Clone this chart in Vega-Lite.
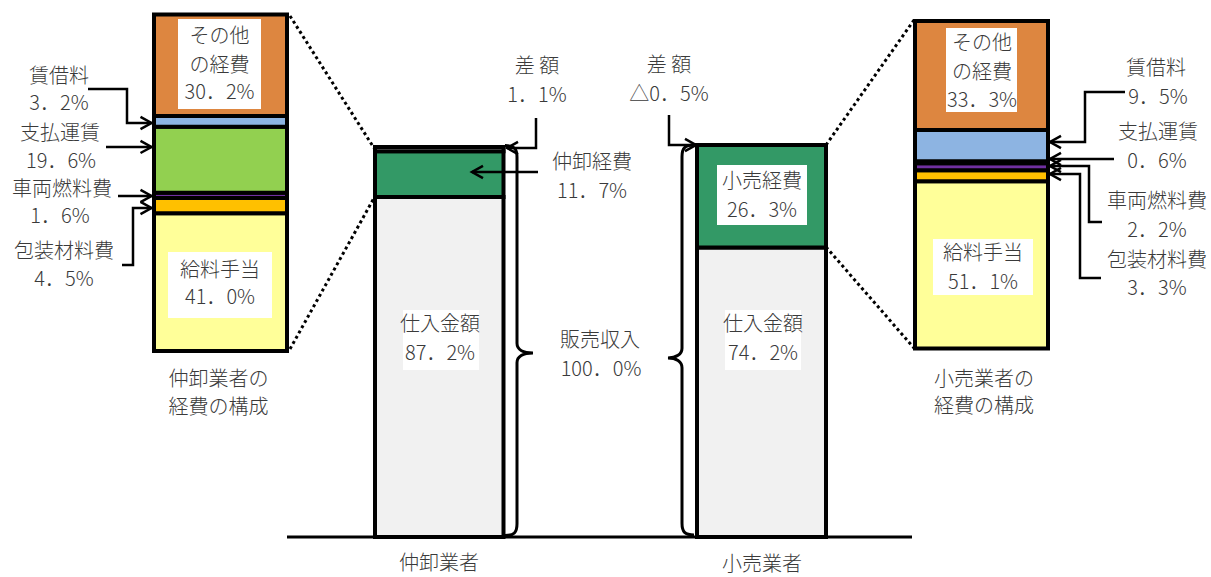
{
  "$schema": "https://vega.github.io/schema/vega-lite/v6.json",
  "width": 1211,
  "height": 577,
  "padding": 0,
  "autosize": "none",
  "background": "white",
  "config": {
    "view": {"stroke": null},
    "font": "Noto Sans CJK JP",
    "text": {"font": "Noto Sans CJK JP", "fontSize": 20, "fontWeight": 300, "color": "#3a3a3a"}
  },
  "datasets": {
    "slots": [
      {"bar": "仲卸業者", "x0": 37.5, "x1": 50.35},
      {"bar": "小売業者", "x0": 69.7, "x1": 82.6},
      {"bar": "仲卸業者の経費", "x0": 15.4, "x1": 28.7},
      {"bar": "小売業者の経費", "x0": 91.5, "x1": 104.8}
    ],
    "sales": [
      {"bar": "仲卸業者", "item": "仕入金額", "v": 87.2, "ord": 1},
      {"bar": "仲卸業者", "item": "経費", "v": 11.7, "ord": 2},
      {"bar": "仲卸業者", "item": "差額", "v": 1.1, "ord": 3},
      {"bar": "小売業者", "item": "仕入金額", "v": 74.2, "ord": 1},
      {"bar": "小売業者", "item": "経費", "v": 26.3, "ord": 2}
    ],
    "cost": [
      {"bar": "仲卸業者の経費", "item": "給料手当", "v": 41.0, "ord": 1},
      {"bar": "仲卸業者の経費", "item": "包装材料費", "v": 4.5, "ord": 2},
      {"bar": "仲卸業者の経費", "item": "車両燃料費", "v": 1.6, "ord": 3},
      {"bar": "仲卸業者の経費", "item": "支払運賃", "v": 19.6, "ord": 4},
      {"bar": "仲卸業者の経費", "item": "賃借料", "v": 3.2, "ord": 5},
      {"bar": "仲卸業者の経費", "item": "その他の経費", "v": 30.2, "ord": 6},
      {"bar": "小売業者の経費", "item": "給料手当", "v": 51.1, "ord": 1},
      {"bar": "小売業者の経費", "item": "包装材料費", "v": 3.3, "ord": 2},
      {"bar": "小売業者の経費", "item": "車両燃料費", "v": 2.2, "ord": 3},
      {"bar": "小売業者の経費", "item": "支払運賃", "v": 0.6, "ord": 4},
      {"bar": "小売業者の経費", "item": "賃借料", "v": 9.5, "ord": 5},
      {"bar": "小売業者の経費", "item": "その他の経費", "v": 33.3, "ord": 6}
    ],
    "boxes": [
      {"grp": "main", "x0": 71.7, "x1": 80.7, "y0": 95.38, "y1": 80.0},
      {"grp": "main", "x0": 40.3, "x1": 47.9, "y0": 58.21, "y1": 42.82},
      {"grp": "main", "x0": 72.5, "x1": 80.1, "y0": 58.21, "y1": 42.82},
      {"grp": "left", "x0": 17.8, "x1": 26.1, "y0": 98.76, "y1": 71.99},
      {"grp": "left", "x0": 16.8, "x1": 27.2, "y0": 29.45, "y1": 9.82},
      {"grp": "right", "x0": 94.6, "x1": 101.7, "y0": 97.86, "y1": 72.21},
      {"grp": "right", "x0": 93.3, "x1": 103.3, "y0": 33.44, "y1": 16.34}
    ],
    "labels": [
      {"grp": "main", "t": "差 額", "x": 53.7, "y": 120.51},
      {"grp": "main", "t": "1．1%", "x": 53.7, "y": 113.08},
      {"grp": "main", "t": "仲卸経費", "x": 59.2, "y": 95.9},
      {"grp": "main", "t": "11．7%", "x": 59.2, "y": 88.46},
      {"grp": "main", "t": "差 額", "x": 66.9, "y": 120.77},
      {"grp": "main", "t": "△0．5%", "x": 66.9, "y": 113.33},
      {"grp": "main", "t": "小売経費", "x": 76.2, "y": 91.03},
      {"grp": "main", "t": "26．3%", "x": 76.2, "y": 83.59},
      {"grp": "main", "t": "仕入金額", "x": 44.0, "y": 54.36},
      {"grp": "main", "t": "87．2%", "x": 44.0, "y": 46.92},
      {"grp": "main", "t": "仕入金額", "x": 76.3, "y": 54.36},
      {"grp": "main", "t": "74．2%", "x": 76.3, "y": 46.92},
      {"grp": "main", "t": "販売収入", "x": 60.0, "y": 50.26},
      {"grp": "main", "t": "100．0%", "x": 60.1, "y": 42.82},
      {"grp": "main", "t": "仲卸業者", "x": 43.9, "y": -6.92},
      {"grp": "main", "t": "小売業者", "x": 76.2, "y": -7.18},
      {"grp": "left", "t": "その他", "x": 21.95, "y": 93.55},
      {"grp": "left", "t": "の経費", "x": 21.95, "y": 84.78},
      {"grp": "left", "t": "30．2%", "x": 21.95, "y": 76.75},
      {"grp": "left", "t": "給料手当", "x": 22.0, "y": 23.8},
      {"grp": "left", "t": "41．0%", "x": 22.0, "y": 15.77},
      {"grp": "left", "t": "仲卸業者の", "x": 21.85, "y": -8.63},
      {"grp": "left", "t": "経費の構成", "x": 21.85, "y": -16.96},
      {"grp": "left", "t": "賃借料", "x": 5.9, "y": 81.51},
      {"grp": "left", "t": "3．2%", "x": 5.9, "y": 73.48},
      {"grp": "left", "t": "支払運賃", "x": 6.0, "y": 64.55},
      {"grp": "left", "t": "19．6%", "x": 6.1, "y": 56.22},
      {"grp": "left", "t": "車両燃料費", "x": 6.2, "y": 47.89},
      {"grp": "left", "t": "1．6%", "x": 6.0, "y": 39.86},
      {"grp": "left", "t": "包装材料費", "x": 6.4, "y": 29.45},
      {"grp": "left", "t": "4．5%", "x": 6.4, "y": 21.12},
      {"grp": "right", "t": "その他", "x": 98.2, "y": 92.98},
      {"grp": "right", "t": "の経費", "x": 98.2, "y": 84.12},
      {"grp": "right", "t": "33．3%", "x": 98.2, "y": 75.6},
      {"grp": "right", "t": "給料手当", "x": 98.3, "y": 28.85},
      {"grp": "right", "t": "51．1%", "x": 98.3, "y": 20.0},
      {"grp": "right", "t": "小売業者の", "x": 98.4, "y": -9.62},
      {"grp": "right", "t": "経費の構成", "x": 98.4, "y": -17.86},
      {"grp": "right", "t": "賃借料", "x": 115.6, "y": 85.34},
      {"grp": "right", "t": "9．5%", "x": 115.8, "y": 76.49},
      {"grp": "right", "t": "支払運賃", "x": 115.8, "y": 65.8},
      {"grp": "right", "t": "0．6%", "x": 115.7, "y": 56.95},
      {"grp": "right", "t": "車両燃料費", "x": 115.7, "y": 44.73},
      {"grp": "right", "t": "2．2%", "x": 115.7, "y": 35.88},
      {"grp": "right", "t": "包装材料費", "x": 115.7, "y": 26.72},
      {"grp": "right", "t": "3．3%", "x": 115.7, "y": 18.17}
    ],
    "leaders": [
      {"grp": "main", "id": "C1", "o": 1, "x": 53.6, "y": 107.44},
      {"grp": "main", "id": "C1", "o": 2, "x": 53.6, "y": 99.74},
      {"grp": "main", "id": "C1", "o": 3, "x": 50.7, "y": 99.74},
      {"grp": "main", "id": "C2", "o": 1, "x": 53.8, "y": 93.59},
      {"grp": "main", "id": "C2", "o": 2, "x": 47.2, "y": 93.59},
      {"grp": "main", "id": "C3", "o": 1, "x": 66.9, "y": 108.21},
      {"grp": "main", "id": "C3", "o": 2, "x": 66.9, "y": 100.51},
      {"grp": "main", "id": "C3", "o": 3, "x": 69.6, "y": 100.51},
      {"grp": "left", "id": "A1", "o": 1, "x": 8.8, "y": 77.94},
      {"grp": "left", "id": "A1", "o": 2, "x": 12.7, "y": 77.94},
      {"grp": "left", "id": "A1", "o": 3, "x": 12.7, "y": 67.82},
      {"grp": "left", "id": "A1", "o": 4, "x": 15.15, "y": 67.82},
      {"grp": "left", "id": "A2", "o": 1, "x": 10.6, "y": 60.69},
      {"grp": "left", "id": "A2", "o": 2, "x": 15.15, "y": 60.69},
      {"grp": "left", "id": "A3", "o": 1, "x": 11.8, "y": 46.11},
      {"grp": "left", "id": "A3", "o": 2, "x": 15.15, "y": 46.11},
      {"grp": "left", "id": "A4", "o": 1, "x": 12.2, "y": 25.58},
      {"grp": "left", "id": "A4", "o": 2, "x": 13.3, "y": 25.58},
      {"grp": "left", "id": "A4", "o": 3, "x": 13.3, "y": 42.54},
      {"grp": "left", "id": "A4", "o": 4, "x": 15.15, "y": 42.54},
      {"grp": "right", "id": "B1", "o": 1, "x": 112.5, "y": 78.32},
      {"grp": "right", "id": "B1", "o": 2, "x": 108.5, "y": 78.32},
      {"grp": "right", "id": "B1", "o": 3, "x": 108.5, "y": 63.05},
      {"grp": "right", "id": "B1", "o": 4, "x": 105.0, "y": 63.05},
      {"grp": "right", "id": "B2", "o": 1, "x": 111.4, "y": 57.86},
      {"grp": "right", "id": "B2", "o": 2, "x": 105.0, "y": 57.86},
      {"grp": "right", "id": "B3", "o": 1, "x": 110.2, "y": 38.63},
      {"grp": "right", "id": "B3", "o": 2, "x": 108.9, "y": 38.63},
      {"grp": "right", "id": "B3", "o": 3, "x": 108.9, "y": 55.73},
      {"grp": "right", "id": "B3", "o": 4, "x": 105.0, "y": 55.73},
      {"grp": "right", "id": "B4", "o": 1, "x": 110.1, "y": 21.53},
      {"grp": "right", "id": "B4", "o": 2, "x": 108.0, "y": 21.53},
      {"grp": "right", "id": "B4", "o": 3, "x": 108.0, "y": 53.28},
      {"grp": "right", "id": "B4", "o": 4, "x": 105.0, "y": 53.28}
    ],
    "heads": [
      {"grp": "main", "dir": "left", "x": 50.7, "y": 99.74},
      {"grp": "main", "dir": "left", "x": 47.2, "y": 93.59},
      {"grp": "main", "dir": "right", "x": 69.6, "y": 100.51},
      {"grp": "left", "dir": "right", "x": 15.15, "y": 67.82},
      {"grp": "left", "dir": "right", "x": 15.15, "y": 60.69},
      {"grp": "left", "dir": "right", "x": 15.15, "y": 46.11},
      {"grp": "left", "dir": "right", "x": 15.15, "y": 42.54},
      {"grp": "right", "dir": "left", "x": 105.0, "y": 63.05},
      {"grp": "right", "dir": "left", "x": 105.0, "y": 57.86},
      {"grp": "right", "dir": "left", "x": 105.0, "y": 55.73},
      {"grp": "right", "dir": "left", "x": 105.0, "y": 53.28}
    ],
    "connectors": [
      {"x": 29.0, "y": 133.6, "x2": 37.4, "y2": 99.74},
      {"x": 29.0, "y": 48.2, "x2": 37.4, "y2": 86.92},
      {"x": 82.6, "y": 100.51, "x2": 91.4, "y2": 132.56},
      {"x": 82.6, "y": 74.36, "x2": 91.4, "y2": 48.46}
    ],
    "braces": [
      {"side": "close", "x": 51.7, "y": 50.38},
      {"side": "open", "x": 68.2, "y": 50.51}
    ],
    "baseline": [
      {"x": 28.7, "x2": 91.2, "y": 0}
    ]
  },
  "layer": [
    {
      "layer": [
        {
          "data": {"name": "sales"},
          "transform": [
            {"lookup": "bar", "from": {"data": {"name": "slots"}, "key": "bar", "fields": ["x0", "x1"]}},
            {"stack": "v", "groupby": ["bar"], "sort": [{"field": "ord", "order": "ascending"}], "as": ["v0", "v1"]}
          ],
          "mark": {"type": "bar", "stroke": "black", "strokeWidth": 4},
          "encoding": {
            "x": {"field": "x0", "type": "quantitative", "scale": {"domain": [0, 121.1], "nice": false, "zero": false}, "axis": null},
            "x2": {"field": "x1"},
            "y": {"field": "v0", "type": "quantitative", "scale": {"domain": [-10.26, 137.69], "nice": false, "zero": false}, "axis": null},
            "y2": {"field": "v1"},
            "color": {"field": "item", "type": "nominal", "legend": null,
              "scale": {"domain": ["仕入金額", "経費", "差額", "給料手当", "包装材料費", "車両燃料費", "支払運賃", "賃借料", "その他の経費"],
                        "range": ["#F1F1F1", "#339966", "#FFFFFF", "#FFFF99", "#FFC000", "#7030A0", "#92D050", "#8DB4E2", "#DD8640"]}}
          }
        },
        {
          "data": {"name": "baseline"},
          "mark": {"type": "rule", "color": "black", "strokeWidth": 3},
          "encoding": {
            "x": {"field": "x", "type": "quantitative", "scale": {"domain": [0, 121.1], "nice": false, "zero": false}, "axis": null},
            "x2": {"field": "x2"},
            "y": {"field": "y", "type": "quantitative", "scale": {"domain": [-10.26, 137.69], "nice": false, "zero": false}, "axis": null}
          }
        },
        {
          "data": {"name": "boxes"},
          "transform": [{"filter": "datum.grp === 'main'"}],
          "mark": {"type": "rect", "fill": "white", "stroke": null},
          "encoding": {
            "x": {"field": "x0", "type": "quantitative", "scale": {"domain": [0, 121.1], "nice": false, "zero": false}, "axis": null},
            "x2": {"field": "x1"},
            "y": {"field": "y0", "type": "quantitative", "scale": {"domain": [-10.26, 137.69], "nice": false, "zero": false}, "axis": null},
            "y2": {"field": "y1"}
          }
        },
        {
          "data": {"name": "connectors"},
          "mark": {"type": "rule", "color": "black", "strokeWidth": 3, "strokeDash": [3, 3]},
          "encoding": {
            "x": {"field": "x", "type": "quantitative", "scale": {"domain": [0, 121.1], "nice": false, "zero": false}, "axis": null},
            "x2": {"field": "x2"},
            "y": {"field": "y", "type": "quantitative", "scale": {"domain": [-10.26, 137.69], "nice": false, "zero": false}, "axis": null},
            "y2": {"field": "y2"}
          }
        },
        {
          "data": {"name": "braces"},
          "transform": [{"filter": "datum.side === 'close'"}],
          "mark": {"type": "point", "filled": false, "stroke": "black", "strokeWidth": 3, "size": 152100, "opacity": 1,
                   "shape": "M -0.0615 -1 C -0.015 -1 0 -0.985 0 -0.94 L 0 0.014 C 0 0.045 0.03 0.064 0.082 0.064 C 0.03 0.064 0 0.083 0 0.114 L 0 0.94 C 0 0.985 -0.015 1 -0.0615 1"},
          "encoding": {
            "x": {"field": "x", "type": "quantitative", "scale": {"domain": [0, 121.1], "nice": false, "zero": false}, "axis": null},
            "y": {"field": "y", "type": "quantitative", "scale": {"domain": [-10.26, 137.69], "nice": false, "zero": false}, "axis": null}
          }
        },
        {
          "data": {"name": "braces"},
          "transform": [{"filter": "datum.side === 'open'"}],
          "mark": {"type": "point", "filled": false, "stroke": "black", "strokeWidth": 3, "size": 152100, "opacity": 1,
                   "shape": "M 0.0615 -1 C 0.015 -1 0 -0.985 0 -0.94 L 0 0.042 C 0 0.073 -0.03 0.092 -0.072 0.092 C -0.03 0.092 0 0.111 0 0.142 L 0 0.94 C 0 0.985 0.015 1 0.0615 1"},
          "encoding": {
            "x": {"field": "x", "type": "quantitative", "scale": {"domain": [0, 121.1], "nice": false, "zero": false}, "axis": null},
            "y": {"field": "y", "type": "quantitative", "scale": {"domain": [-10.26, 137.69], "nice": false, "zero": false}, "axis": null}
          }
        },
        {
          "data": {"name": "leaders"},
          "transform": [{"filter": "datum.grp === 'main'"}],
          "mark": {"type": "line", "color": "black", "strokeWidth": 2.5},
          "encoding": {
            "x": {"field": "x", "type": "quantitative", "scale": {"domain": [0, 121.1], "nice": false, "zero": false}, "axis": null},
            "y": {"field": "y", "type": "quantitative", "scale": {"domain": [-10.26, 137.69], "nice": false, "zero": false}, "axis": null},
            "detail": {"field": "id"},
            "order": {"field": "o"}
          }
        },
        {
          "data": {"name": "heads"},
          "transform": [{"filter": "datum.grp === 'main' && datum.dir === 'left'"}],
          "mark": {"type": "point", "filled": false, "stroke": "black", "strokeWidth": 2.5, "size": 484, "opacity": 1, "shape": "M 1 -0.55 L 0 0 L 1 0.55"},
          "encoding": {
            "x": {"field": "x", "type": "quantitative", "scale": {"domain": [0, 121.1], "nice": false, "zero": false}, "axis": null},
            "y": {"field": "y", "type": "quantitative", "scale": {"domain": [-10.26, 137.69], "nice": false, "zero": false}, "axis": null}
          }
        },
        {
          "data": {"name": "heads"},
          "transform": [{"filter": "datum.grp === 'main' && datum.dir === 'right'"}],
          "mark": {"type": "point", "filled": false, "stroke": "black", "strokeWidth": 2.5, "size": 484, "opacity": 1, "shape": "M -1 -0.55 L 0 0 L -1 0.55"},
          "encoding": {
            "x": {"field": "x", "type": "quantitative", "scale": {"domain": [0, 121.1], "nice": false, "zero": false}, "axis": null},
            "y": {"field": "y", "type": "quantitative", "scale": {"domain": [-10.26, 137.69], "nice": false, "zero": false}, "axis": null}
          }
        },
        {
          "data": {"name": "labels"},
          "transform": [{"filter": "datum.grp === 'main'"}],
          "mark": {"type": "text", "align": "center", "baseline": "middle"},
          "encoding": {
            "x": {"field": "x", "type": "quantitative", "scale": {"domain": [0, 121.1], "nice": false, "zero": false}, "axis": null},
            "y": {"field": "y", "type": "quantitative", "scale": {"domain": [-10.26, 137.69], "nice": false, "zero": false}, "axis": null},
            "text": {"field": "t"}
          }
        }
      ]
    },
    {
      "layer": [
        {
          "data": {"name": "cost"},
          "transform": [
            {"filter": "datum.bar === '仲卸業者の経費'"},
            {"lookup": "bar", "from": {"data": {"name": "slots"}, "key": "bar", "fields": ["x0", "x1"]}},
            {"stack": "v", "groupby": ["bar"], "sort": [{"field": "ord", "order": "ascending"}], "as": ["v0", "v1"]}
          ],
          "mark": {"type": "bar", "stroke": "black", "strokeWidth": 4},
          "encoding": {
            "x": {"field": "x0", "type": "quantitative", "scale": {"domain": [0, 121.1], "nice": false, "zero": false}, "axis": null},
            "x2": {"field": "x1"},
            "y": {"field": "v0", "type": "quantitative", "scale": {"domain": [-67.23, 104.41], "nice": false, "zero": false}, "axis": null},
            "y2": {"field": "v1"},
            "color": {"field": "item", "type": "nominal", "legend": null,
              "scale": {"domain": ["仕入金額", "経費", "差額", "給料手当", "包装材料費", "車両燃料費", "支払運賃", "賃借料", "その他の経費"],
                        "range": ["#F1F1F1", "#339966", "#FFFFFF", "#FFFF99", "#FFC000", "#7030A0", "#92D050", "#8DB4E2", "#DD8640"]}}
          }
        },
        {
          "data": {"name": "boxes"},
          "transform": [{"filter": "datum.grp === 'left'"}],
          "mark": {"type": "rect", "fill": "white", "stroke": null},
          "encoding": {
            "x": {"field": "x0", "type": "quantitative", "scale": {"domain": [0, 121.1], "nice": false, "zero": false}, "axis": null},
            "x2": {"field": "x1"},
            "y": {"field": "y0", "type": "quantitative", "scale": {"domain": [-67.23, 104.41], "nice": false, "zero": false}, "axis": null},
            "y2": {"field": "y1"}
          }
        },
        {
          "data": {"name": "leaders"},
          "transform": [{"filter": "datum.grp === 'left'"}],
          "mark": {"type": "line", "color": "black", "strokeWidth": 2.5},
          "encoding": {
            "x": {"field": "x", "type": "quantitative", "scale": {"domain": [0, 121.1], "nice": false, "zero": false}, "axis": null},
            "y": {"field": "y", "type": "quantitative", "scale": {"domain": [-67.23, 104.41], "nice": false, "zero": false}, "axis": null},
            "detail": {"field": "id"},
            "order": {"field": "o"}
          }
        },
        {
          "data": {"name": "heads"},
          "transform": [{"filter": "datum.grp === 'left'"}],
          "mark": {"type": "point", "filled": false, "stroke": "black", "strokeWidth": 2.5, "size": 484, "opacity": 1, "shape": "M -1 -0.55 L 0 0 L -1 0.55"},
          "encoding": {
            "x": {"field": "x", "type": "quantitative", "scale": {"domain": [0, 121.1], "nice": false, "zero": false}, "axis": null},
            "y": {"field": "y", "type": "quantitative", "scale": {"domain": [-67.23, 104.41], "nice": false, "zero": false}, "axis": null}
          }
        },
        {
          "data": {"name": "labels"},
          "transform": [{"filter": "datum.grp === 'left'"}],
          "mark": {"type": "text", "align": "center", "baseline": "middle"},
          "encoding": {
            "x": {"field": "x", "type": "quantitative", "scale": {"domain": [0, 121.1], "nice": false, "zero": false}, "axis": null},
            "y": {"field": "y", "type": "quantitative", "scale": {"domain": [-67.23, 104.41], "nice": false, "zero": false}, "axis": null},
            "text": {"field": "t"}
          }
        }
      ]
    },
    {
      "layer": [
        {
          "data": {"name": "cost"},
          "transform": [
            {"filter": "datum.bar === '小売業者の経費'"},
            {"lookup": "bar", "from": {"data": {"name": "slots"}, "key": "bar", "fields": ["x0", "x1"]}},
            {"stack": "v", "groupby": ["bar"], "sort": [{"field": "ord", "order": "ascending"}], "as": ["v0", "v1"]}
          ],
          "mark": {"type": "bar", "stroke": "black", "strokeWidth": 4},
          "encoding": {
            "x": {"field": "x0", "type": "quantitative", "scale": {"domain": [0, 121.1], "nice": false, "zero": false}, "axis": null},
            "x2": {"field": "x1"},
            "y": {"field": "v0", "type": "quantitative", "scale": {"domain": [-69.77, 106.41], "nice": false, "zero": false}, "axis": null},
            "y2": {"field": "v1"},
            "color": {"field": "item", "type": "nominal", "legend": null,
              "scale": {"domain": ["仕入金額", "経費", "差額", "給料手当", "包装材料費", "車両燃料費", "支払運賃", "賃借料", "その他の経費"],
                        "range": ["#F1F1F1", "#339966", "#FFFFFF", "#FFFF99", "#FFC000", "#7030A0", "#92D050", "#8DB4E2", "#DD8640"]}}
          }
        },
        {
          "data": {"name": "boxes"},
          "transform": [{"filter": "datum.grp === 'right'"}],
          "mark": {"type": "rect", "fill": "white", "stroke": null},
          "encoding": {
            "x": {"field": "x0", "type": "quantitative", "scale": {"domain": [0, 121.1], "nice": false, "zero": false}, "axis": null},
            "x2": {"field": "x1"},
            "y": {"field": "y0", "type": "quantitative", "scale": {"domain": [-69.77, 106.41], "nice": false, "zero": false}, "axis": null},
            "y2": {"field": "y1"}
          }
        },
        {
          "data": {"name": "leaders"},
          "transform": [{"filter": "datum.grp === 'right'"}],
          "mark": {"type": "line", "color": "black", "strokeWidth": 2.5},
          "encoding": {
            "x": {"field": "x", "type": "quantitative", "scale": {"domain": [0, 121.1], "nice": false, "zero": false}, "axis": null},
            "y": {"field": "y", "type": "quantitative", "scale": {"domain": [-69.77, 106.41], "nice": false, "zero": false}, "axis": null},
            "detail": {"field": "id"},
            "order": {"field": "o"}
          }
        },
        {
          "data": {"name": "heads"},
          "transform": [{"filter": "datum.grp === 'right'"}],
          "mark": {"type": "point", "filled": false, "stroke": "black", "strokeWidth": 2.5, "size": 484, "opacity": 1, "shape": "M 1 -0.55 L 0 0 L 1 0.55"},
          "encoding": {
            "x": {"field": "x", "type": "quantitative", "scale": {"domain": [0, 121.1], "nice": false, "zero": false}, "axis": null},
            "y": {"field": "y", "type": "quantitative", "scale": {"domain": [-69.77, 106.41], "nice": false, "zero": false}, "axis": null}
          }
        },
        {
          "data": {"name": "labels"},
          "transform": [{"filter": "datum.grp === 'right'"}],
          "mark": {"type": "text", "align": "center", "baseline": "middle"},
          "encoding": {
            "x": {"field": "x", "type": "quantitative", "scale": {"domain": [0, 121.1], "nice": false, "zero": false}, "axis": null},
            "y": {"field": "y", "type": "quantitative", "scale": {"domain": [-69.77, 106.41], "nice": false, "zero": false}, "axis": null},
            "text": {"field": "t"}
          }
        }
      ]
    }
  ],
  "resolve": {"scale": {"y": "independent"}}
}
